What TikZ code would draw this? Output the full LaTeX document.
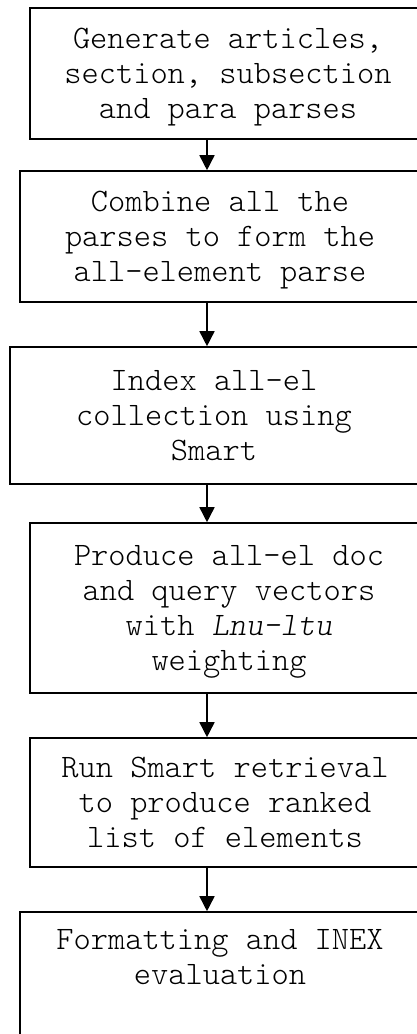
\documentclass[tikz,border=0pt]{standalone}
\usepackage{fontspec}
\setmonofont{Latin Modern Mono Light}
\usetikzlibrary{positioning,arrows.meta}

\begin{document}
\begin{tikzpicture}[x=1pt, y=-1pt,
        stagetext/.style={align=center, inner sep=0pt,
            font=\ttfamily\fontsize{32.8}{35}\selectfont},
        stagebox/.style={stagetext, draw, line width=1.6pt, text depth=0pt},
        flow/.style={-{Triangle[width=15pt,length=15pt]}, line width=1.6pt}]
        % Page frame (the boxes run past the right edge)
        \useasboundingbox (0, 0) rectangle (417, 1034);
        % Common x position of all the arrows
        \pgfmathsetmacro{\arrowx}{207}
        \coordinate (AX) at (\arrowx, 0);

        % Stages of the pipeline
        \node[stagebox, minimum width=396pt, minimum height=131pt] (b1) at (228, 73.5)
            {Generate articles,\\section, subsection\\and para parses};
        \node[stagebox, minimum width=400pt, minimum height=131pt] (b2) at (220, 236.5)
            {Combine all the\\parses to form the\\all-element parse};
        \node[stagebox, minimum width=408pt, minimum height=137pt] (b3) at (214, 415.5)
            {Index all-el\\collection using\\Smart};
        \node[stagebox, minimum width=398pt, minimum height=170pt] (b4) at (229, 608)
            {Produce all-el doc\\and query vectors\\with \textit{Lnu-ltu}\\weighting};
        \node[stagebox, minimum width=390pt, minimum height=129pt] (b5) at (225, 802.5)
            {Run Smart retrieval\\to produce ranked\\list of elements};
        % Last box runs past the bottom edge, its text sits at the top
        \node[stagebox, minimum width=400pt, minimum height=160pt] (b6) at (220, 992) {};
        \node[stagetext, below=18pt of b6.north] (t6)
            {Formatting and INEX\\evaluation};

        % Arrows between the stages
        \foreach \from/\to in {b1/b2, b2/b3, b3/b4, b4/b5, b5/b6}
            \draw[flow] (\from.south -| AX) -- (\to.north -| AX);
\end{tikzpicture}
\end{document}
